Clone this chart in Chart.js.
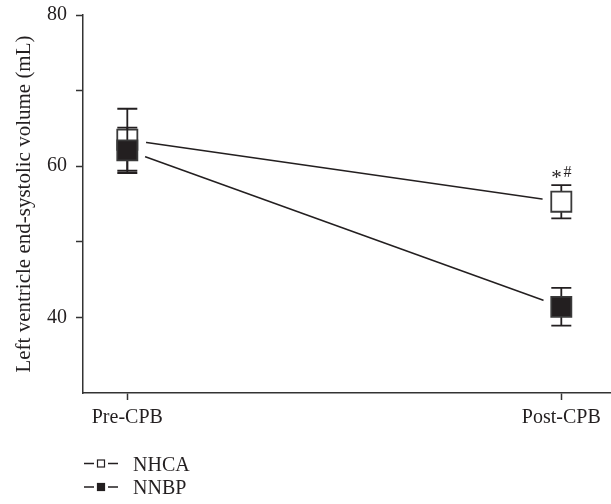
<!DOCTYPE html>
<html>
<head>
<meta charset="utf-8">
<script src="https://cdn.jsdelivr.net/npm/chart.js@4.4.0/dist/chart.umd.min.js"></script>
<style>
  html, body { margin: 0; padding: 0; background: #ffffff; }
  #wrap { width: 611px; height: 504px; position: relative; }
</style>
</head>
<body>
<div id="wrap"><canvas id="c"></canvas></div>
<script>
// Time points and group results (mean ± SD, mL)
const categories = ['Pre-CPB', 'Post-CPB'];
const seriesNames = ['NHCA', 'NNBP'];
const nhcaMean = [63.5, 55.3];
const nhcaSD = [4.1, 2.2];
const nnbpMean = [62.1, 41.4];
const nnbpSD = [3.0, 2.5];
const significance = ['', '*#'];
const yTickLabels = [40, 60, 80];
const yRange = [30, 80];

const INK = '#231f20';
const AXIS = '#333333';
const FONT = "'Liberation Serif', 'Times New Roman', serif";

Chart.defaults.font.family = FONT;
Chart.defaults.font.size = 20;
Chart.defaults.color = INK;

const series = [
  { name: seriesNames[0], mean: nhcaMean, sd: nhcaSD, fill: '#ffffff' },
  { name: seriesNames[1], mean: nnbpMean, sd: nnbpSD, fill: INK }
];
const pointsOf = s => s.mean.map((m, i) => ({ x: i, y: m }));

// Error bars go under each group's markers; the legend sits below the axis.
const errorBars = {
  id: 'errorBars',
  beforeDatasetDraw(chart, args) {
    const ds = chart.data.datasets[args.index];
    if (ds.role !== 'marker') return;
    const s = series[ds.seriesIndex];
    const { ctx, scales: { x, y } } = chart;
    ctx.save();
    ctx.strokeStyle = INK;
    ctx.lineWidth = 1.8;
    s.mean.forEach((m, i) => {
      const px = x.getPixelForValue(i);
      const top = y.getPixelForValue(m + s.sd[i]);
      const bot = y.getPixelForValue(m - s.sd[i]);
      ctx.beginPath();
      ctx.moveTo(px, top); ctx.lineTo(px, bot);
      ctx.moveTo(px - 10, top); ctx.lineTo(px + 10, top);
      ctx.moveTo(px - 10, bot); ctx.lineTo(px + 10, bot);
      ctx.stroke();
    });
    ctx.restore();
  },
  afterDatasetsDraw(chart) {
    const { ctx, scales: { x, y } } = chart;
    ctx.save();
    ctx.fillStyle = INK;
    ctx.textAlign = 'center';
    ctx.textBaseline = 'alphabetic';
    significance.forEach((mark, i) => {
      if (!mark) return;
      const px = x.getPixelForValue(i);
      const top = y.getPixelForValue(nhcaMean[i] + nhcaSD[i]);
      const chars = Array.from(mark);
      ctx.font = '21px ' + FONT;
      ctx.fillText(chars[0], px - 4.8, top - 1.5);
      ctx.font = '16px ' + FONT;
      ctx.fillText(chars[1], px + 6.2, top - 7.8);
    });
    ctx.restore();
  },
  afterDraw(chart) {
    const { ctx } = chart;
    ctx.save();
    series.forEach((s, i) => {
      const cy = 463.5 + i * 23.5;
      ctx.strokeStyle = INK;
      ctx.lineWidth = 1.5;
      ctx.beginPath();
      ctx.moveTo(84, cy); ctx.lineTo(94, cy);
      ctx.moveTo(108, cy); ctx.lineTo(118, cy);
      ctx.stroke();
      ctx.fillStyle = s.fill;
      ctx.fillRect(97.5, cy - 3.5, 7, 7);
      ctx.lineWidth = 1.2;
      ctx.strokeRect(97.5, cy - 3.5, 7, 7);
      ctx.fillStyle = INK;
      ctx.font = '20px ' + FONT;
      ctx.textAlign = 'left';
      ctx.textBaseline = 'alphabetic';
      ctx.fillText(s.name, 133, cy + 7);
    });
    ctx.restore();
  }
};

new Chart(document.getElementById('c'), {
  type: 'scatter',
  data: {
    datasets: [
      {
        role: 'marker', seriesIndex: 1, label: seriesNames[1],
        data: pointsOf(series[1]), showLine: false, order: 1,
        pointStyle: 'rect', pointRadius: 14.2,
        pointBackgroundColor: INK, pointBorderColor: '#3a3a3a', pointBorderWidth: 1.8
      },
      {
        role: 'marker', seriesIndex: 0, label: seriesNames[0],
        data: pointsOf(series[0]), showLine: false, order: 2,
        pointStyle: 'rect', pointRadius: 14.2,
        pointBackgroundColor: '#ffffff', pointBorderColor: '#3a3a3a', pointBorderWidth: 1.8
      },
      {
        // white gap around every marker so the connecting lines stop short
        role: 'gap', label: 'gap',
        data: pointsOf(series[0]).concat(pointsOf(series[1])), showLine: false, order: 3,
        pointStyle: 'circle', pointRadius: 19,
        pointBackgroundColor: '#ffffff', pointBorderWidth: 0
      },
      {
        role: 'line', label: seriesNames[1] + ' trend',
        data: pointsOf(series[1]), showLine: true, order: 4,
        borderColor: INK, borderWidth: 1.5, pointRadius: 0
      },
      {
        role: 'line', label: seriesNames[0] + ' trend',
        data: pointsOf(series[0]), showLine: true, order: 5,
        borderColor: INK, borderWidth: 1.5, pointRadius: 0
      }
    ]
  },
  options: {
    responsive: true,
    maintainAspectRatio: false,
    animation: false,
    events: [],
    layout: { autoPadding: false, padding: { top: 15, right: 0, bottom: 71, left: 0 } },
    plugins: { legend: { display: false }, tooltip: { enabled: false } },
    scales: {
      x: {
        type: 'linear',
        min: -0.1021,
        max: 1.1145,
        afterBuildTicks: sc => { sc.ticks = categories.map((_, i) => ({ value: i })); },
        afterFit: sc => { sc.height = 40; sc.paddingLeft = 0; sc.paddingRight = 0; },
        ticks: {
          callback: v => categories[v],
          padding: 6, color: INK, maxRotation: 0, autoSkip: false
        },
        grid: { drawOnChartArea: false, tickLength: 7, tickWidth: 1.5, tickColor: AXIS },
        border: { color: AXIS, width: 1.5 }
      },
      y: {
        min: yRange[0],
        max: yRange[1],
        afterBuildTicks: sc => { sc.ticks = sc.ticks.filter(t => t.value > yRange[0]); },
        afterFit: sc => { sc.width = 83; sc.paddingTop = 0; sc.paddingBottom = 0; },
        ticks: {
          stepSize: 10,
          callback: v => (yTickLabels.includes(v) ? String(v) : ''),
          padding: 9, color: INK, crossAlign: 'near'
        },
        grid: { drawOnChartArea: false, tickLength: 7, tickWidth: 1.5, tickColor: AXIS },
        border: { color: AXIS, width: 1.5 },
        title: {
          display: true,
          text: 'Left ventricle end-systolic volume (mL)',
          color: INK,
          font: { size: 21 },
          padding: { top: 12, bottom: 0 }
        }
      }
    }
  },
  plugins: [errorBars]
});
</script>
</body>
</html>
